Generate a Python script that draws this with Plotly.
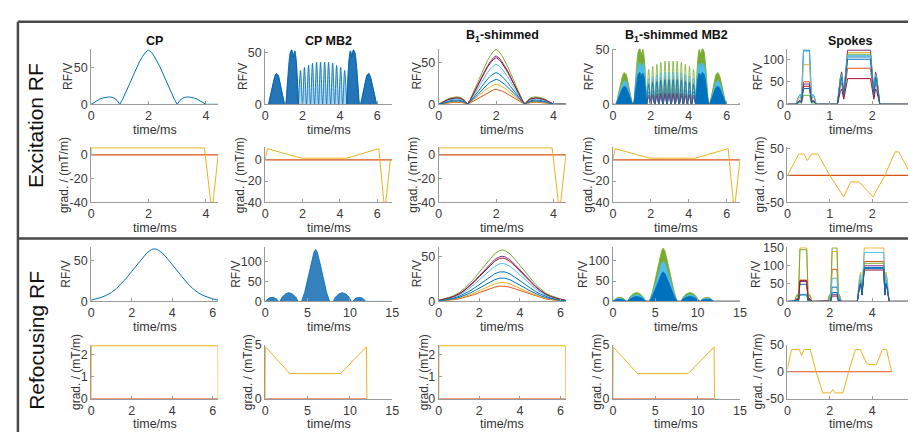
import plotly.graph_objects as go

W, H = 916, 432
FONT = "Liberation Sans, Arial, Helvetica, sans-serif"
CH = ['#0072BD', '#D95319', '#EDB120', '#7E2F8E', '#77AC30', '#4DBEEE', '#A2142F', '#0072BD']
GY, GZ = '#D95319', '#EDB120'

# ---------------- text ----------------
col_titles = ['CP', 'CP MB2', 'B<sub>1</sub>-shimmed', 'B<sub>1</sub>-shimmed MB2', 'Spokes']
row_titles = ['Excitation RF', 'Refocusing RF']
rf_label = 'RF/V'
grad_label = 'grad. / (mT/m)'
time_label = 'time/ms'

# ---------------- axes (ticks / ranges) ----------------
x_end = [[4.43, 6.8, 4.43, 6.7, 3.0], [4.43, 6.8, 4.43, 6.7, 3.0],
         [6.27, 15, 6.27, 15, 6.0], [6.27, 15, 6.27, 15, 6.0]]
x_ticks = [[[0, 2, 4], [0, 2, 4, 6], [0, 2, 4], [0, 2, 4, 6], [0, 1, 2, 3]],
           [[0, 2, 4], [0, 2, 4, 6], [0, 2, 4], [0, 2, 4, 6], [0, 1, 2, 3]],
           [[0, 2, 4, 6], [0, 5, 10, 15], [0, 2, 4, 6], [0, 5, 10, 15], [0, 2, 4, 6]],
           [[0, 2, 4, 6], [0, 5, 10, 15], [0, 2, 4, 6], [0, 5, 10, 15], [0, 2, 4, 6]]]
y_ranges = [[[0, 75.5], [0, 54], [0, 66.5], [0, 51], [0, 123]],
            [[-40, 6.5], [-40, 12], [-40, 6.5], [-40, 12], [-50, 53]],
            [[0, 67], [0, 137], [0, 60], [0, 133], [0, 152]],
            [[0, 2.45], [0, 5], [0, 2.45], [0, 5], [-50, 50]]]
y_ticks = [[[0, 50], [0, 50], [0, 50], [0, 50], [0, 50, 100]],
           [[-40, -20, 0], [-40, -20, 0], [-40, -20, 0], [-40, -20, 0], [-50, 0, 50]],
           [[0, 50], [0, 50, 100], [0, 50], [0, 50, 100], [0, 50, 100, 150]],
           [[0, 1, 2], [0, 5], [0, 1, 2], [0, 5], [-50, 0, 50]]]

# ---------------- RF data ----------------
# CP excitation (single channel)
cp_exc_t = [0, .1, .2, .3, .4, .5, .6, .7, .8, .9, 1.0,
            1.1, 1.2, 1.3, 1.4, 1.5, 1.6, 1.7, 1.8, 1.9, 2.0,
            2.1, 2.2, 2.3, 2.4, 2.5, 2.6, 2.7, 2.8, 2.9, 3.0,
            3.1, 3.2, 3.3, 3.4, 3.5, 3.6, 3.7, 3.8, 3.9, 4.0, 4.43]
cp_exc_v = [0, 2.5, 5, 7, 8.5, 9.5, 10, 9.8, 8.5, 5.5, 0,
            7, 15, 24, 33, 42, 51, 59, 65.5, 71, 74,
            71, 65.5, 59, 51, 42, 33, 24, 15, 7, 0,
            5.5, 8.5, 9.8, 10, 9.5, 8.5, 7, 5, 2.5, 0, 0]

# CP refocusing (single channel)
cp_ref_t = [0, 0.25, 0.5, 0.75, 1.0, 1.25, 1.5, 1.75, 2.0, 2.25, 2.5, 2.75, 3.0, 3.13,
            3.26, 3.51, 3.76, 4.01, 4.26, 4.51, 4.76, 5.01, 5.26, 5.51, 5.76, 6.01, 6.26]
cp_ref_v = [1.5, 3, 5, 7.5, 11, 16, 22, 29, 37, 45, 53, 60, 64.3, 65,
            64.3, 60, 53, 45, 37, 29, 22, 16, 11, 7.5, 5, 3, 1.5]

# CP MB2 excitation: dense clusters (envelopes) and individual lobes
mb2_A_t = [0.17, 0.28, 0.4, 0.5, 0.6, 0.7, 0.8, 0.92, 1.04]
mb2_A_v = [0, 8, 18, 26, 30, 28, 20, 9, 0]
mb2_B_t = [1.1, 1.18, 1.26, 1.34, 1.42, 1.5, 1.58, 1.66, 1.78]
mb2_B_v = [0, 18, 38, 50, 53, 46, 52, 42, 0]
mb2_C_t = [4.36, 4.48, 4.56, 4.64, 4.72, 4.8, 4.88, 4.96, 5.04]
mb2_C_v = [0, 42, 52, 46, 53, 50, 38, 18, 0]
mb2_D_t = [5.1, 5.22, 5.34, 5.44, 5.54, 5.64, 5.74, 5.86, 5.97]
mb2_D_v = [0, 9, 20, 28, 30, 26, 18, 8, 0]
mb2_zero_t = [1.78, 1.995, 2.21, 2.425, 2.64, 2.855, 3.07, 3.285, 3.5, 3.715, 3.93, 4.145, 4.36]
mb2_peak_t = [1.89, 2.10, 2.32, 2.53, 2.75, 2.96, 3.18, 3.39, 3.61, 3.82, 4.04, 4.25]
mb2_peak_v = [33, 36, 38, 40, 41, 41, 41, 41, 40, 38, 36, 33]

# CP MB2 refocusing lobes (envelopes)
mb2r_lobes_t = [[0, 0.2, 0.45, 0.8, 1.15, 1.4, 1.55],
                [1.74, 2.0, 2.4, 2.8, 3.2, 3.6, 3.87],
                [4.3, 4.65, 5.05, 5.45, 5.75, 5.95, 6.15, 6.45, 6.85, 7.25, 7.6],
                [8.03, 8.3, 8.7, 9.1, 9.5, 9.9, 10.16],
                [10.35, 10.5, 10.75, 11.1, 11.45, 11.7, 11.9]]
mb2r_lobes_v = [[0, 5, 8.5, 10, 8.5, 5, 0],
                [0, 11, 19, 22, 19, 11, 0],
                [0, 22, 58, 98, 124, 131, 124, 98, 58, 22, 0],
                [0, 11, 19, 22, 19, 11, 0],
                [0, 5, 8.5, 10, 8.5, 5, 0]]

# B1-shimmed channels (8 transmit channels)
b1_exc_peaks = [38, 18, 24, 58, 66, 48, 56, 30]
b1_ref_peaks = [33, 17, 21, 50, 57, 42, 48, 26]
b1mb2_exc_scale = [0.35, 0.6, 0.55, 0.2, 0.97, 0.72, 0.25, 0.55]
b1mb2_ref_scale = [0.45, 0.22, 0.3, 0.15, 1.0, 0.75, 0.25, 0.55]

# Spokes excitation: sub-pulse templates and channel amplitudes
spk_e1_t = [0.2, 0.27, 0.3, 0.33, 0.38, 0.52, 0.57, 0.6, 0.63, 0.68]
spk_e1_s = [0, 0.15, 0.18, 0.1, 1, 1, 0.1, 0.18, 0.15, 0]
spk_e2_t = [1.18, 1.25, 1.28, 1.33, 1.42, 1.96, 2.04, 2.08, 2.11, 2.18]
spk_e2_s = [0, 0.5, 0.6, 0.2, 1, 1, 0.2, 0.6, 0.5, 0]
spk_exc_amp1 = [120, 50, 88, 45, 20, 118, 40, 35]
spk_exc_amp2 = [105, 80, 115, 120, 111, 108, 57, 100]

# Spokes refocusing
spk_r1_t = [0.33, 0.42, 0.47, 0.52, 0.59, 0.91, 0.98, 1.03, 1.08, 1.15]
spk_r1_s = [0, 0.1, 0.13, 0.05, 1, 1, 0.05, 0.13, 0.1, 0]
spk_r2_t = [1.9, 1.97, 2.0, 2.04, 2.11, 2.34, 2.41, 2.45, 2.48, 2.55]
spk_r2_s = [0, 0.1, 0.13, 0.05, 1, 1, 0.05, 0.13, 0.1, 0]
spk_r3_t = [3.3, 3.4, 3.46, 3.52, 3.63, 4.55, 4.6, 4.65, 4.7, 4.8]
spk_r3_s = [0, 0.45, 0.55, 0.2, 1, 1, 0.2, 0.55, 0.45, 0]
spk_ref_amp1 = [48, 60, 150, 56, 145, 20, 58, 18]
spk_ref_amp2 = [40, 90, 140, 20, 150, 65, 15, 25]
spk_ref_amp3 = [95, 112, 150, 100, 107, 137, 88, 92]

# ---------------- gradient data (Gz; Gy is zero) ----------------
cp_exc_gz_t = [0, 0.01, 3.95, 4.17, 4.25, 4.43]
cp_exc_gz_v = [0, 5.8, 5.8, -40, -40, 0]
mb2_exc_gz_t = [0, 0.12, 1.95, 4.35, 6.08, 6.35, 6.45, 6.7]
mb2_exc_gz_v = [0, 10.5, 1.5, 1.5, 10.5, -40, -40, 0]
spk_exc_gz_t = [0, 0.27, 0.39, 0.47, 0.57, 0.72, 1.0, 1.33, 1.49, 1.69, 2.02, 2.3, 2.54, 2.63, 2.92]
spk_exc_gz_v = [0, 40, 40, 28, 40, 40, 0, -40, -12, -12, -40, 0, 44, 44, 0]
cp_ref_gz_t = [0, 0.01, 6.26, 6.27]
cp_ref_gz_v = [0, 2.4, 2.4, 0]
mb2_ref_gz_t = [0, 0.03, 2.9, 8.9, 11.95, 12.0]
mb2_ref_gz_v = [0, 4.8, 2.33, 2.33, 4.8, 0]
spk_ref_gz_t = [0, 0.19, 0.56, 0.67, 0.79, 1.08, 1.35, 1.67, 2.03, 2.14, 2.25, 2.62, 2.89,
                3.21, 3.44, 3.73, 3.9, 4.2, 4.48, 4.68, 4.92]
spk_ref_gz_v = [5, 41, 41, 30, 41, 41, 0, -39, -39, -33, -39, -39, 0,
                41, 41, 16, 13, 13, 41, 41, 0]

# ---------------- layout geometry (pixels) ----------------
col_x0 = [81, 257, 432.5, 608.5, 785]
col_w = 128.5
row_top = [35, 136.5, 240, 340.7]
row_bot = [92.3, 193.5, 296, 396.7]
ylab_off = [[24, 23, 22, 24.5, 30], [28, 26, 26, 25, 28],
            [25, 29, 22, 29.5, 31], [16, 18, 15.5, 16, 30]]

fig = go.Figure()


def ax_id(r, c):
    return r * 5 + c + 1


def add(r, c, t, v, color, width=1.0, fill=None, fillcolor=None, shape='linear'):
    k = ax_id(r, c)
    fig.add_trace(go.Scatter(
        x=t, y=v, mode='lines',
        xaxis='x' if k == 1 else f'x{k}', yaxis='y' if k == 1 else f'y{k}',
        line=dict(color=color, width=width, shape=shape),
        fill=fill, fillcolor=fillcolor, showlegend=False, hoverinfo='skip'))


def scaled(vals, factor):
    return [v * factor for v in vals]


def mb2_exc_outline(f, t_end):
    zt, zv = [], []
    for i in range(len(mb2_peak_t)):
        zt += [mb2_zero_t[i], mb2_peak_t[i]]
        zv += [0, mb2_peak_v[i] * f]
    zt.append(mb2_zero_t[-1]); zv.append(0)
    t = [0] + mb2_A_t + mb2_B_t + zt + mb2_C_t + mb2_D_t + [t_end]
    v = ([0] + scaled(mb2_A_v, f) + scaled(mb2_B_v, f) + zv +
         scaled(mb2_C_v, f) + scaled(mb2_D_v, f) + [0])
    return t, v


def mb2_ref_outline(f, t_end):
    t, v = [], []
    for lt, lv in zip(mb2r_lobes_t, mb2r_lobes_v):
        t += lt
        v += scaled(lv, f)
    return t + [t_end], v + [0]


def grads(r, c, gz_t, gz_v, t_end):
    add(r, c, [0, t_end], [0, 0], GY, 1.2)
    add(r, c, gz_t, gz_v, GZ)


CLUSTERS = [(mb2_A_t, mb2_A_v), (mb2_B_t, mb2_B_v), (mb2_C_t, mb2_C_v), (mb2_D_t, mb2_D_v)]

# ---- Row 0: excitation RF ----
add(0, 0, cp_exc_t, cp_exc_v, CH[0])

t, v = mb2_exc_outline(1.0, x_end[0][1])
add(0, 1, t, v, CH[0], 0.9, 'tozeroy', 'rgba(0,114,189,0.30)', 'spline')
for ct, cv in CLUSTERS:
    add(0, 1, ct, cv, '#0a62aa', 0.8, 'toself', 'rgba(16,104,176,0.88)')

cp_max = max(cp_exc_v)
for ch in range(8):
    add(0, 2, cp_exc_t, scaled(cp_exc_v, b1_exc_peaks[ch] / cp_max), CH[ch])

for ch in range(8):
    f = b1mb2_exc_scale[ch]
    t, v = mb2_exc_outline(f, x_end[0][3])
    add(0, 3, t, v, CH[ch], 0.8, None, None, 'spline')
    for ct, cv in CLUSTERS:
        add(0, 3, ct, scaled(cv, f), CH[ch], 0.6, 'toself', CH[ch])

for ch in range(8):
    t = [0] + spk_e1_t + spk_e2_t + [x_end[0][4]]
    v = [0] + scaled(spk_e1_s, spk_exc_amp1[ch]) + scaled(spk_e2_s, spk_exc_amp2[ch]) + [0]
    add(0, 4, t, v, CH[ch])

# ---- Row 1: excitation gradients ----
grads(1, 0, cp_exc_gz_t, cp_exc_gz_v, x_end[1][0])
grads(1, 1, mb2_exc_gz_t, mb2_exc_gz_v, x_end[1][1])
grads(1, 2, cp_exc_gz_t, cp_exc_gz_v, x_end[1][2])
grads(1, 3, mb2_exc_gz_t, mb2_exc_gz_v, x_end[1][3])
grads(1, 4, spk_exc_gz_t, spk_exc_gz_v, x_end[1][4])

# ---- Row 2: refocusing RF ----
add(2, 0, cp_ref_t, cp_ref_v, CH[0])

t, v = mb2_ref_outline(1.0, x_end[2][1])
add(2, 1, t, v, CH[0], 0.9, 'tozeroy', 'rgba(18,108,180,0.85)')

cpr_max = max(cp_ref_v)
for ch in range(8):
    add(2, 2, cp_ref_t, scaled(cp_ref_v, b1_ref_peaks[ch] / cpr_max), CH[ch])

for ch in range(8):
    t, v = mb2_ref_outline(b1mb2_ref_scale[ch], x_end[2][3])
    add(2, 3, t, v, CH[ch], 0.8, 'tozeroy', CH[ch])

for ch in range(8):
    t = [0] + spk_r1_t + spk_r2_t + spk_r3_t + [x_end[2][4]]
    v = ([0] + scaled(spk_r1_s, spk_ref_amp1[ch]) + scaled(spk_r2_s, spk_ref_amp2[ch]) +
         scaled(spk_r3_s, spk_ref_amp3[ch]) + [0])
    add(2, 4, t, v, CH[ch])

# ---- Row 3: refocusing gradients ----
grads(3, 0, cp_ref_gz_t, cp_ref_gz_v, x_end[3][0])
grads(3, 1, mb2_ref_gz_t, mb2_ref_gz_v, 12.0)
grads(3, 2, cp_ref_gz_t, cp_ref_gz_v, x_end[3][2])
grads(3, 3, mb2_ref_gz_t, mb2_ref_gz_v, 12.0)
grads(3, 4, spk_ref_gz_t, spk_ref_gz_v, 4.92)

# ---------------- axes ----------------
axis_style = dict(showline=True, linecolor='#9a9a9a', linewidth=1, ticks='inside', ticklen=3,
                  tickcolor='#9a9a9a', tickwidth=1, showgrid=False, zeroline=False,
                  tickfont=dict(family=FONT, size=12.5, color='#3a3a3a'), fixedrange=True)
layout = {}
annotations = []
for r in range(4):
    for c in range(5):
        k = ax_id(r, c)
        sx = '' if k == 1 else str(k)
        x0 = col_x0[c]
        x1 = x0 + col_w
        layout[f'xaxis{sx}'] = dict(axis_style, domain=[x0 / W, x1 / W], anchor=f'y{sx}',
                                    range=[0, x_end[r][c]], tickvals=x_ticks[r][c],
                                    ticktext=[str(v) for v in x_ticks[r][c]])
        layout[f'yaxis{sx}'] = dict(axis_style, domain=[1 - row_bot[r] / H, 1 - row_top[r] / H],
                                    anchor=f'x{sx}', range=y_ranges[r][c], tickvals=y_ticks[r][c],
                                    ticktext=[str(v) for v in y_ticks[r][c]])
        annotations.append(dict(
            text=rf_label if r % 2 == 0 else grad_label, textangle=-90,
            x=(x0 - ylab_off[r][c]) / W, y=1 - (row_top[r] + row_bot[r]) / 2 / H,
            xref='paper', yref='paper', xanchor='center', yanchor='middle', showarrow=False,
            font=dict(family=FONT, size=12, color='#333333')))
        annotations.append(dict(
            text=time_label, x=(x0 + col_w / 2) / W, y=1 - (row_bot[r] + 26.5) / H,
            xref='paper', yref='paper', xanchor='center', yanchor='middle', showarrow=False,
            font=dict(family=FONT, size=12.5, color='#333333')))

for c in range(5):
    ty = 21.5 if 'sub' in col_titles[c] else 27
    annotations.append(dict(
        text='<b>' + col_titles[c] + '</b>', x=(col_x0[c] + col_w / 2) / W, y=1 - ty / H,
        xref='paper', yref='paper', xanchor='center', yanchor='middle', showarrow=False,
        font=dict(family=FONT, size=12.5, color='#111111')))

for txt, cy in zip(row_titles, [114, 336]):
    annotations.append(dict(
        text=txt, textangle=-90, x=25 / W, y=1 - cy / H, xref='paper', yref='paper',
        xanchor='center', yanchor='middle', showarrow=False,
        font=dict(family=FONT, size=21, color='#111111')))

shapes = [
    dict(type='line', xref='paper', yref='paper', x0=7 / W, x1=1, y0=1 - 7 / H, y1=1 - 7 / H,
         line=dict(color='#4a4a4a', width=2.5)),
    dict(type='line', xref='paper', yref='paper', x0=7 / W, x1=1, y0=1 - 231 / H, y1=1 - 231 / H,
         line=dict(color='#4a4a4a', width=2.5)),
    dict(type='line', xref='paper', yref='paper', x0=7 / W, x1=7 / W, y0=0, y1=1 - 7 / H,
         line=dict(color='#4a4a4a', width=2.5)),
]

fig.update_layout(width=W, height=H, margin=dict(l=0, r=0, t=0, b=0),
                  paper_bgcolor='white', plot_bgcolor='white', showlegend=False,
                  font=dict(family=FONT, size=12.5, color='#333333'),
                  annotations=annotations, shapes=shapes, **layout)

fig.write_html("out.html")
